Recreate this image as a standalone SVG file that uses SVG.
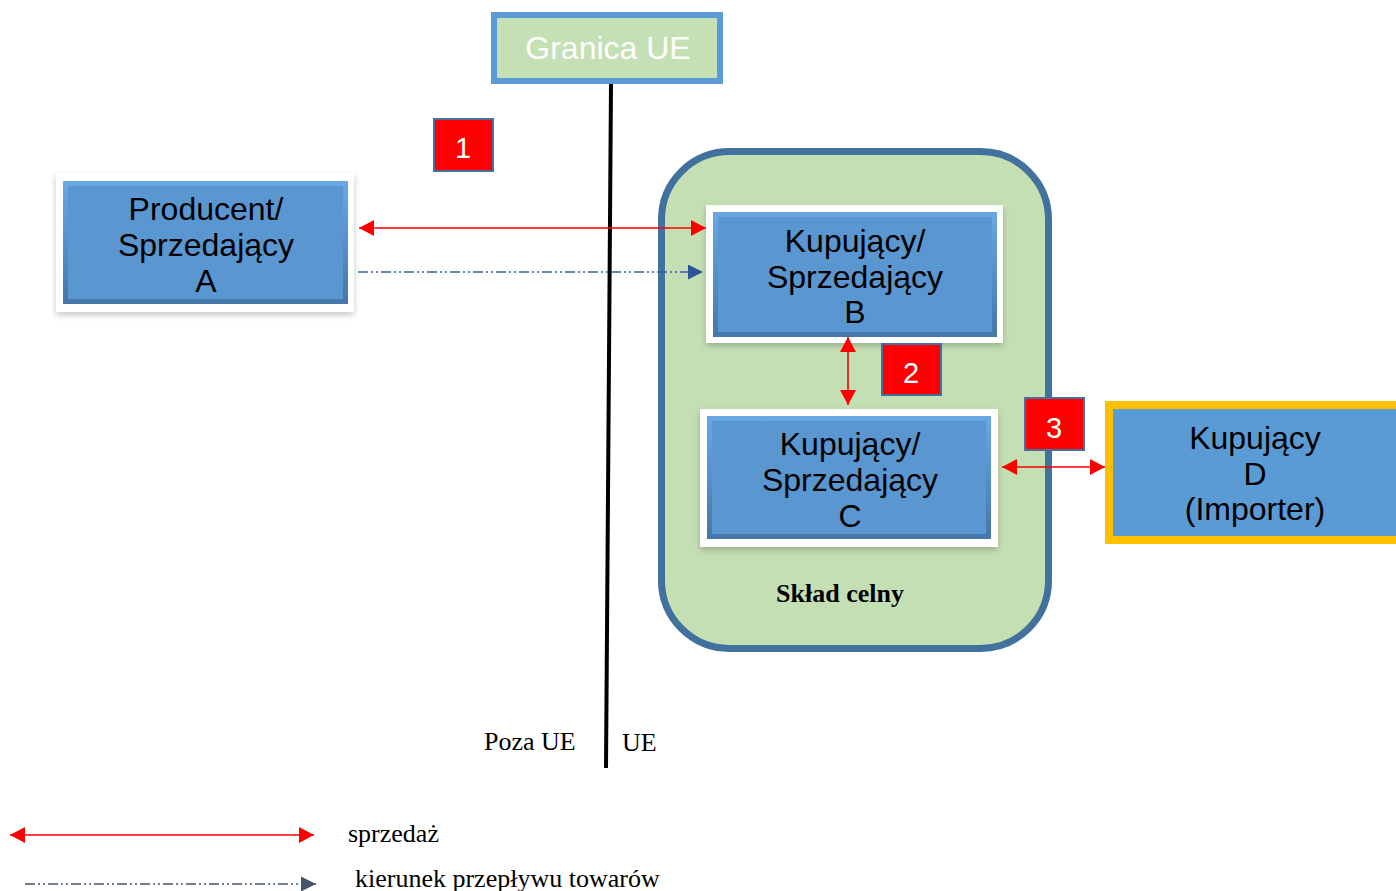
<svg xmlns="http://www.w3.org/2000/svg" width="1396" height="891" viewBox="0 0 1396 891">
<style>
.sans{font-family:"Liberation Sans",Arial,sans-serif}
.serif{font-family:"Liberation Serif","Times New Roman",serif}
.lbl{font-size:32px;fill:#000;text-anchor:middle}
.num{font-size:29px;fill:#fff;text-anchor:middle}
.numbox{fill:#ff0000;stroke:#41719c;stroke-width:2}
.frame{fill:#fff;filter:url(#sh)}
.inner{fill:#5a96d0}
.bevel{fill:none;stroke:url(#bev);stroke-width:5}
.sale{stroke:#ff0000;stroke-width:1.6;fill:none}
.flow{stroke:#3a5fa0;stroke-width:1.6;fill:none;stroke-dasharray:10 3 2 3 2 3}
</style>
<defs>
<filter id="sh" x="-10%" y="-10%" width="120%" height="125%">
<feDropShadow dx="0" dy="3" stdDeviation="3" flood-color="#000" flood-opacity="0.22"/>
</filter>
<linearGradient id="bev" x1="0" y1="0" x2="0" y2="1">
<stop offset="0" stop-color="#68a8e2"/>
<stop offset="0.5" stop-color="#5690c9"/>
<stop offset="1" stop-color="#4577aa"/>
</linearGradient>
<marker id="ar" markerWidth="16" markerHeight="16" refX="15" refY="8" orient="auto-start-reverse" markerUnits="userSpaceOnUse">
<path d="M0,0 L15,8 L0,16 Z" fill="#ff0000"/>
</marker>
<marker id="ab" markerWidth="16" markerHeight="16" refX="15" refY="7.5" orient="auto" markerUnits="userSpaceOnUse">
<path d="M0,0 L15,7.5 L0,15 Z" fill="#2f5597"/>
</marker>
<marker id="ag" markerWidth="16" markerHeight="16" refX="15" refY="7.5" orient="auto" markerUnits="userSpaceOnUse">
<path d="M0,0 L15,7.5 L0,15 Z" fill="#44546a"/>
</marker>
</defs>
<rect width="1396" height="891" fill="#fff"/>

<g id="border-line">
<line x1="611" y1="84" x2="606" y2="768" stroke="#000" stroke-width="4"/>
</g>

<g id="granica">
<rect x="494" y="15" width="226" height="66" fill="#c5e0b4" stroke="#5b9bd5" stroke-width="6"/>
<text class="sans" x="608" y="59" font-size="32" fill="#fff" text-anchor="middle">Granica UE</text>
</g>

<g id="sklad">
<rect x="661.5" y="151.5" width="387" height="497" rx="68" ry="68" fill="#c5dfb4" stroke="#41719c" stroke-width="7"/>
<text class="serif" x="840" y="602" font-size="26" font-weight="bold" text-anchor="middle">Skład celny</text>
</g>

<g id="nodeA">
<rect class="frame" x="56" y="173" width="298" height="139"/>
<rect class="inner" x="63" y="181" width="285" height="123"/>
<rect class="bevel" x="65.5" y="183.5" width="280" height="118"/>
<text class="sans lbl" x="206" y="220">Producent/</text>
<text class="sans lbl" x="206" y="256">Sprzedający</text>
<text class="sans lbl" x="206" y="292">A</text>
</g>

<g id="nodeB">
<rect class="frame" x="706" y="205" width="297" height="138"/>
<rect class="inner" x="713" y="212" width="284" height="125"/>
<rect class="bevel" x="715.5" y="214.5" width="279" height="120"/>
<text class="sans lbl" x="855" y="252">Kupujący/</text>
<text class="sans lbl" x="855" y="288">Sprzedający</text>
<text class="sans lbl" x="855" y="323">B</text>
</g>

<g id="nodeC">
<rect class="frame" x="700" y="409" width="298" height="138"/>
<rect class="inner" x="707" y="416" width="284" height="123"/>
<rect class="bevel" x="709.5" y="418.5" width="279" height="118"/>
<text class="sans lbl" x="850" y="455">Kupujący/</text>
<text class="sans lbl" x="850" y="491">Sprzedający</text>
<text class="sans lbl" x="850" y="527">C</text>
</g>

<g id="nodeD">
<rect x="1109" y="405" width="295" height="135" fill="#5b9bd5" stroke="#ffc000" stroke-width="8"/>
<text class="sans lbl" x="1255" y="449">Kupujący</text>
<text class="sans lbl" x="1255" y="485">D</text>
<text class="sans lbl" x="1255" y="520">(Importer)</text>
</g>

<g id="connectors">
<line class="sale" x1="359" y1="228" x2="706" y2="228" marker-start="url(#ar)" marker-end="url(#ar)"/>
<line class="flow" x1="358" y1="272" x2="703" y2="272" marker-end="url(#ab)"/>
<line class="sale" x1="848" y1="337" x2="848" y2="405" marker-start="url(#ar)" marker-end="url(#ar)"/>
<line class="sale" x1="1002" y1="467" x2="1105" y2="467" marker-start="url(#ar)" marker-end="url(#ar)"/>
</g>

<g id="num1">
<rect class="numbox" x="434" y="119" width="59" height="52"/>
<text class="sans num" x="463" y="158">1</text>
</g>
<g id="num2">
<rect class="numbox" x="882" y="344" width="59" height="51"/>
<text class="sans num" x="911" y="383">2</text>
</g>
<g id="num3">
<rect class="numbox" x="1025" y="398" width="59" height="52"/>
<text class="sans num" x="1054" y="438">3</text>
</g>

<g id="region-labels">
<text class="serif" x="484" y="750" font-size="26">Poza UE</text>
<text class="serif" x="622" y="751" font-size="26">UE</text>
</g>

<g id="legend">
<line class="sale" x1="10" y1="835" x2="314" y2="835" marker-start="url(#ar)" marker-end="url(#ar)"/>
<text class="serif" x="348" y="842" font-size="26">sprzedaż</text>
<line x1="25" y1="884" x2="316" y2="884" stroke="#44546a" stroke-width="1.6" stroke-dasharray="10 3 2 3 2 3" marker-end="url(#ag)"/>
<text class="serif" x="355" y="887" font-size="26">kierunek przepływu towarów</text>
</g>
</svg>
